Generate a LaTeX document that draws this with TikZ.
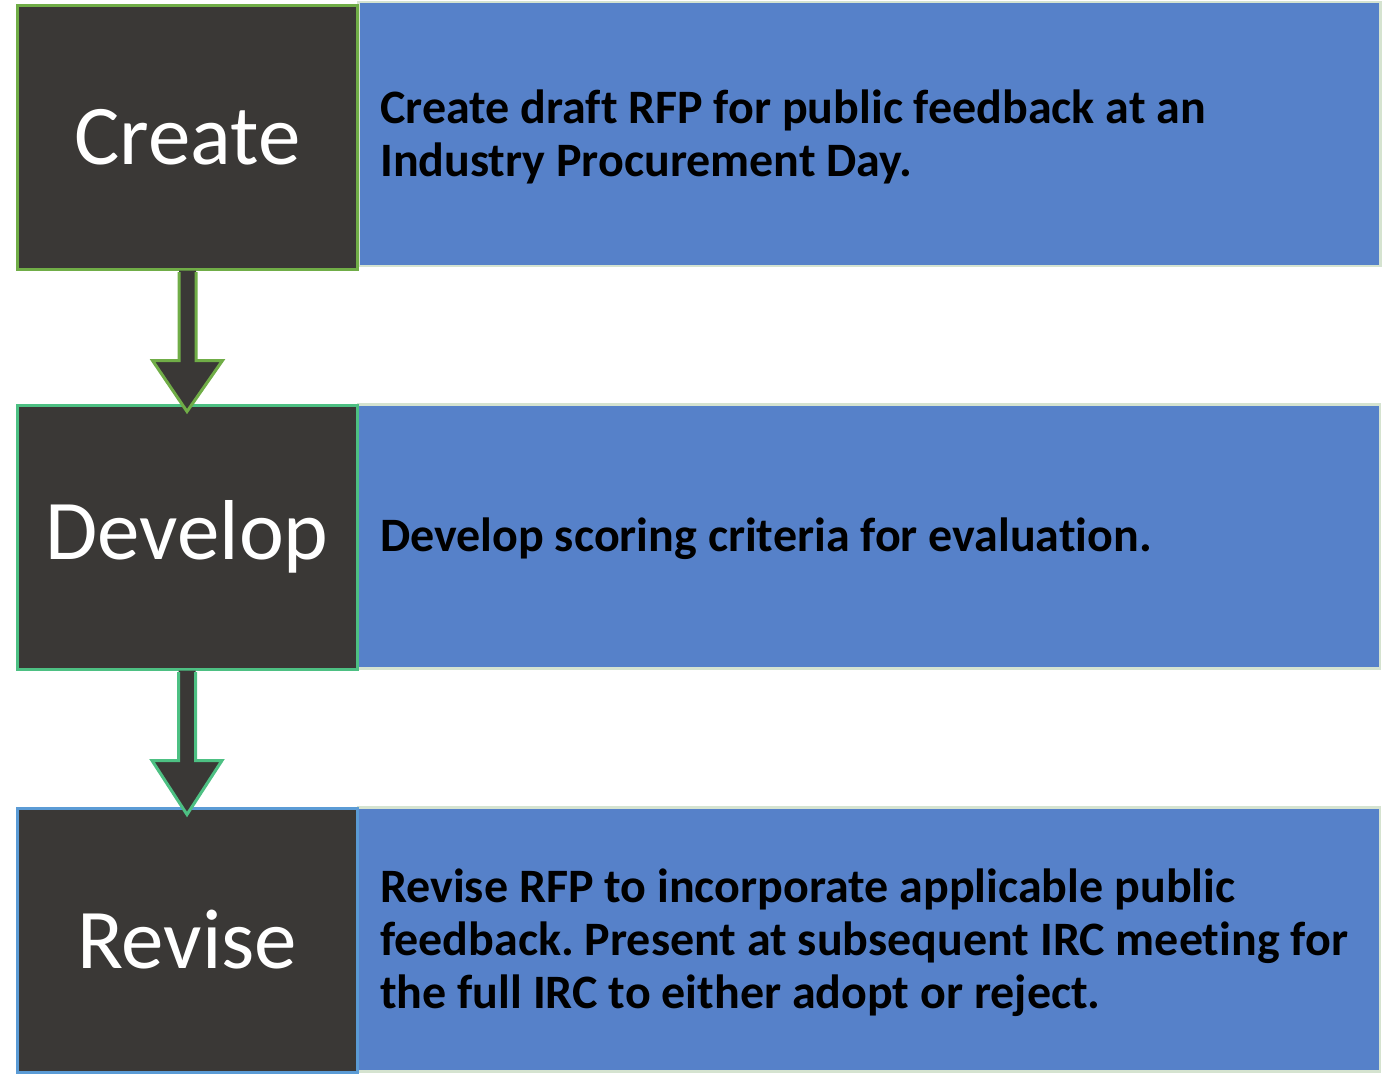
\documentclass[tikz,border=0pt]{standalone}
\usepackage{fontspec}
\setmainfont[RawFeature=-liga]{Carlito}
\frenchspacing
\usetikzlibrary{calc}
\definecolor{darkfill}{HTML}{3A3836}
\definecolor{bluefill}{HTML}{5681C9}
\definecolor{bluebord}{HTML}{D5E3D0}
\definecolor{grn}{HTML}{70AD47}
\definecolor{teal}{HTML}{4DC083}
\definecolor{bordblue}{HTML}{5B9BD5}
\tikzset{
  stepbox/.style={fill=darkfill, line width=3pt, minimum width=340pt, minimum height=264pt, inner sep=0pt, text=white, font=\fontsize{85}{100}\selectfont},
  descbox/.style={fill=bluefill, draw=bluebord, line width=2.5pt, minimum width=1022pt, minimum height=264pt, inner sep=0pt},
  desctext/.style={anchor=west, align=left, inner sep=0pt, font=\frenchspacing\fontsize{48}{53}\selectfont\bfseries},
}
\begin{document}
\begin{tikzpicture}[x=1pt,y=-1pt]
\useasboundingbox (0,0) rectangle (1384,1074);
% description boxes
\node[descbox] (d1) at (869.5,134) {};
\node[descbox] (d2) at (869,536.5) {};
\node[descbox] (d3) at (869,939.5) {};
% step boxes
\node[stepbox, draw=grn] (create) at (187.5,137) {Create};
\node[stepbox, draw=teal] (develop) at (187,537) {Develop};
\node[stepbox, draw=bordblue] (revise) at (187,940) {Revise};
% texts
\node[desctext] (t1) at (380,137) {Create draft RFP for public feedback at an\\Industry Procurement Day.};
\node[desctext] (t2) at (380,539) {Develop scoring criteria for evaluation.};
\node[desctext] (t3) at (380,943) {Revise RFP to incorporate applicable public\\feedback. Present at subsequent IRC meeting for\\the full IRC to either adopt or reject.};
% arrows
\foreach \a/\b/\c in {create/develop/grn, develop/revise/teal}{
  \fill[darkfill] ($(\a.south)+(-8.5,0)$) -- ($(\a.south)+(-8.5,90)$) -- ($(\a.south)+(-35,90)$)
     -- ($(\b.north)+(0,8)$) -- ($(\a.south)+(35,90)$) -- ($(\a.south)+(8.5,90)$) -- ($(\a.south)+(8.5,0)$) -- cycle;
  \draw[\c, line width=3pt, line join=miter] ($(\a.south)+(-8.5,1.5)$) -- ($(\a.south)+(-8.5,90)$) -- ($(\a.south)+(-35,90)$)
     -- ($(\b.north)+(0,8)$) -- ($(\a.south)+(35,90)$) -- ($(\a.south)+(8.5,90)$) -- ($(\a.south)+(8.5,1.5)$);
}
\end{tikzpicture}
\end{document}
